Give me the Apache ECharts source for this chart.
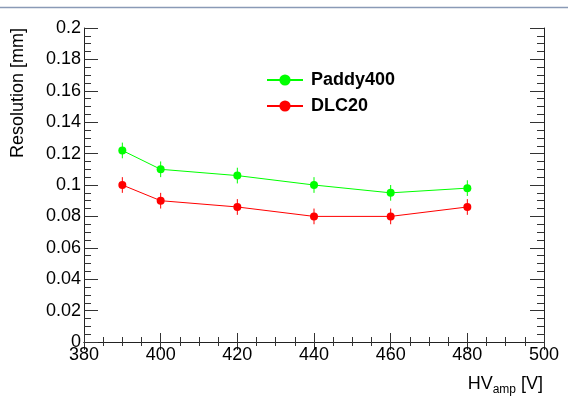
<!DOCTYPE html>
<html>
<head>
<meta charset="utf-8">
<script src="https://cdn.jsdelivr.net/npm/echarts@6/dist/echarts.min.js"></script>
<style>
html,body{margin:0;padding:0;background:#fff;}
#chart{width:568px;height:403px;}
</style>
</head>
<body>
<div id="chart"></div>
<script>
const hvValues = [390, 400, 420, 440, 460, 480];
const paddy400 = [0.122, 0.110, 0.106, 0.100, 0.095, 0.098];
const paddy400Err = [0.005, 0.005, 0.005, 0.005, 0.005, 0.005];
const dlc20 = [0.100, 0.090, 0.086, 0.080, 0.080, 0.086];
const dlc20Err = [0.005, 0.005, 0.005, 0.005, 0.005, 0.005];
const seriesNames = ['Paddy400', 'DLC20'];

const GREEN = '#00ff00';
const RED = '#ff0000';
const FONT = 'Liberation Sans';

function pts(vals) { return hvValues.map((x, i) => [x, vals[i]]); }
function errs(vals, e) { return hvValues.map((x, i) => [x, vals[i] - e[i], vals[i] + e[i]]); }
function errSeries(name, vals, e, color) {
  return {
    type: 'custom', name: name + ' err', z: 1, silent: true,
    data: errs(vals, e),
    encode: { x: 0, y: [1, 2] },
    renderItem: function (params, api) {
      const x = api.value(0);
      const p1 = api.coord([x, api.value(1)]);
      const p2 = api.coord([x, api.value(2)]);
      return { type: 'line', shape: { x1: p1[0], y1: p1[1], x2: p2[0], y2: p2[1] }, style: { stroke: color, lineWidth: 1 } };
    }
  };
}

const axisCommon = {
  axisLine: { show: true, lineStyle: { color: '#222', width: 1 } },
  splitLine: { show: false },
  minorSplitLine: { show: false }
};

const chart = echarts.init(document.getElementById('chart'), null, { renderer: 'canvas' });
chart.setOption({
  animation: false,
  backgroundColor: '#fff',
  grid: { left: 84, right: 24, top: 28, bottom: 61, containLabel: false },
  xAxis: [
    Object.assign({}, axisCommon, {
      type: 'value', position: 'bottom', min: 380, max: 500, interval: 20,
      axisTick: { inside: true, length: 9, lineStyle: { color: '#333' } },
      minorTick: { show: true, splitNumber: 4, length: 5, lineStyle: { color: '#333' } },
      axisLabel: { fontSize: 18, color: '#000', fontFamily: FONT, margin: 4 }
    }),
    Object.assign({}, axisCommon, {
      type: 'value', position: 'top', min: 380, max: 500, interval: 20,
      axisTick: { inside: true, length: 8, lineStyle: { color: '#333' } },
      minorTick: { show: true, splitNumber: 4, length: 4, lineStyle: { color: '#333' } },
      axisLabel: { show: false }
    })
  ],
  yAxis: [
    Object.assign({}, axisCommon, {
      type: 'value', position: 'left', min: 0, max: 0.2, interval: 0.02,
      axisTick: { inside: true, length: 14, lineStyle: { color: '#333' } },
      minorTick: { show: true, splitNumber: 4, length: 7, lineStyle: { color: '#333' } },
      axisLabel: { fontSize: 18, color: '#000', fontFamily: FONT, margin: 3, formatter: v => String(+v.toFixed(2)) }
    }),
    Object.assign({}, axisCommon, {
      type: 'value', position: 'right', min: 0, max: 0.2, interval: 0.02,
      axisTick: { inside: true, length: 14, lineStyle: { color: '#333' } },
      minorTick: { show: true, splitNumber: 4, length: 7, lineStyle: { color: '#333' } },
      axisLabel: { show: false }
    })
  ],
  legend: {
    data: seriesNames,
    orient: 'vertical', left: 261, top: 66,
    itemWidth: 36, itemHeight: 14, itemGap: 8,
    textStyle: { fontSize: 18, fontWeight: 'bold', color: '#000', fontFamily: FONT, lineHeight: 18, padding: [0, 0, 0, 3] }
  },
  graphic: [
    { type: 'line', shape: { x1: 0, y1: 7.5, x2: 568, y2: 7.5 }, style: { stroke: '#8a9ab6', lineWidth: 1.5 }, silent: true },
    {
      type: 'text', x: 18, y: 28, rotation: Math.PI / 2,
      style: { text: 'Resolution [mm]', fontSize: 18, fontFamily: FONT, fill: '#000', align: 'right', verticalAlign: 'middle' }
    },
    {
      type: 'text', right: 25, top: 375,
      style: {
        text: 'HV{sub|amp} [V]', fontSize: 18, fontFamily: FONT, fill: '#000',
        rich: { sub: { fontSize: 12, fontFamily: FONT, fill: '#000', padding: [12, 0, 0, 0] } }
      }
    }
  ],
  series: [
    {
      type: 'line', name: seriesNames[0], data: pts(paddy400), z: 3,
      symbol: 'circle', symbolSize: 8, color: GREEN,
      itemStyle: { color: GREEN }, lineStyle: { color: GREEN, width: 1 }
    },
    {
      type: 'line', name: seriesNames[1], data: pts(dlc20), z: 3,
      symbol: 'circle', symbolSize: 8, color: RED,
      itemStyle: { color: RED }, lineStyle: { color: RED, width: 1 }
    },
    errSeries(seriesNames[0], paddy400, paddy400Err, GREEN),
    errSeries(seriesNames[1], dlc20, dlc20Err, RED)
  ]
});
</script>
</body>
</html>
